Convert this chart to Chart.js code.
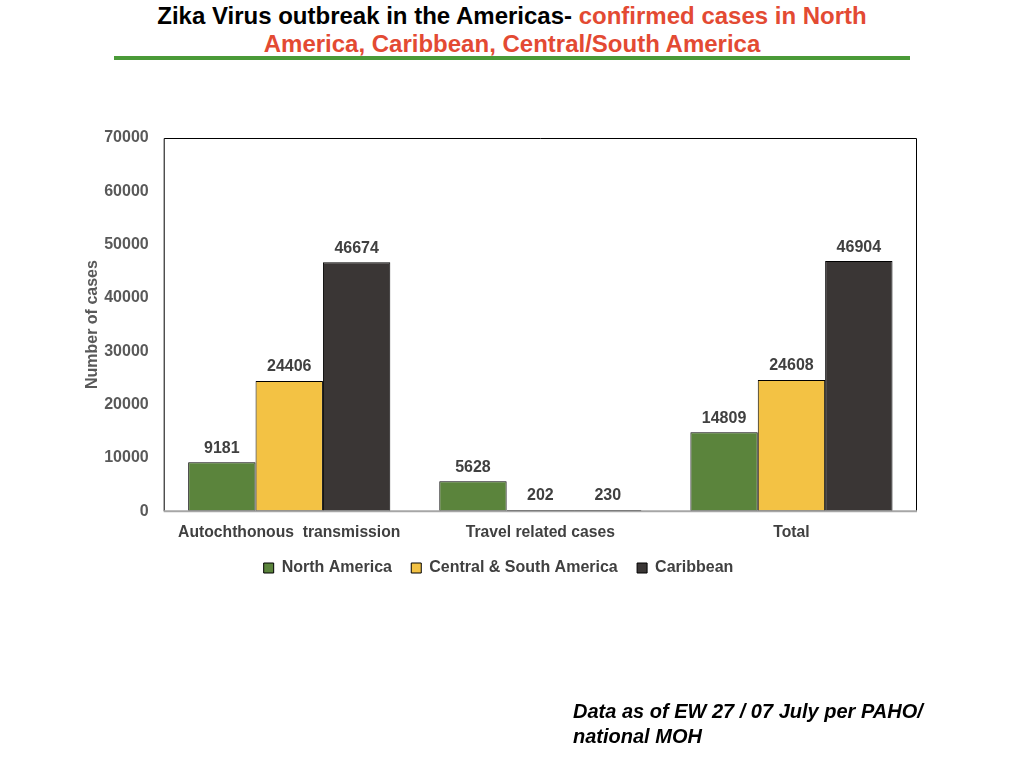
<!DOCTYPE html>
<html>
<head>
<meta charset="utf-8">
<script src="https://cdn.jsdelivr.net/npm/chart.js@4/dist/chart.umd.min.js"></script>
<style>
  html, body { margin: 0; padding: 0; background: #fff; width: 1024px; height: 768px; overflow: hidden; }
  #wrap { position: absolute; left: 0; top: 0; width: 1024px; height: 768px; }
  #title { position: absolute; left: 0; top: 2px; width: 1024px; text-align: center;
    font-family: "Liberation Sans Narrow", "Liberation Sans", Arial, sans-serif; font-weight: bold;
    font-size: 24px; line-height: 28px; color: #000; }
  #title .red { color: #e34a33; }
  #rule { position: absolute; left: 114px; top: 56px; width: 796px; height: 4px; background: #4a9a38; }
  #foot { position: absolute; left: 573px; top: 699px; font-family: "Liberation Sans", Arial, sans-serif;
    font-weight: bold; font-style: italic; font-size: 20px; line-height: 25px; color: #000; }
  canvas { position: absolute; left: 0; top: 0; }
</style>
</head>
<body>
<div id="wrap">
  <div id="title">Zika Virus outbreak in the Americas- <span class="red">confirmed cases in North<br>America, Caribbean, Central/South America</span></div>
  <div id="rule"></div>
  <canvas id="c" width="1024" height="768"></canvas>
  <div id="foot">Data as of EW 27 / 07 July per PAHO/<br>national MOH</div>
</div>
<script>
const categories = ["Autochthonous  transmission", "Travel related cases", "Total"];
const northAmerica = [9181, 5628, 14809];
const centralSouthAmerica = [24406, 202, 24608];
const caribbean = [46674, 230, 46904];
const seriesNames = ["North America", "Central & South America", "Caribbean"];
const seriesColors = ["#5b843c", "#f3c244", "#3a3635"];
const yTicks = [0, 10000, 20000, 30000, 40000, 50000, 60000, 70000];

const FONT = '"Liberation Sans", Arial, sans-serif';

const labelPlugin = {
  id: 'barLabels',
  afterDatasetsDraw(chart) {
    const ctx = chart.ctx;
    ctx.save();
    ctx.font = 'bold 16px ' + FONT;
    ctx.fillStyle = '#404040';
    ctx.textAlign = 'center';
    ctx.textBaseline = 'bottom';
    chart.data.datasets.forEach((ds, i) => {
      chart.getDatasetMeta(i).data.forEach((bar, j) => {
        ctx.fillText(String(ds.data[j]), bar.x, bar.y - 6);
      });
    });
    ctx.restore();
  }
};
const framePlugin = {
  id: 'frame',
  afterDraw(chart) {
    const a = chart.chartArea, ctx = chart.ctx;
    ctx.save();
    ctx.strokeStyle = '#000';
    ctx.lineWidth = 1;
    ctx.beginPath();
    ctx.moveTo(a.left + 0.5, a.bottom);
    ctx.lineTo(a.left + 0.5, a.top + 0.5);
    ctx.lineTo(a.right - 0.5, a.top + 0.5);
    ctx.lineTo(a.right - 0.5, a.bottom);
    ctx.stroke();
    ctx.strokeStyle = '#a6a6a6';
    ctx.lineWidth = 2;
    ctx.beginPath();
    ctx.moveTo(a.left, a.bottom);
    ctx.lineTo(a.right, a.bottom);
    ctx.stroke();
    ctx.restore();
  }
};

new Chart(document.getElementById('c'), {
  type: 'bar',
  data: {
    labels: categories,
    datasets: [northAmerica, centralSouthAmerica, caribbean].map((d, i) => ({
      label: seriesNames[i],
      data: d,
      backgroundColor: seriesColors[i],
      borderColor: '#000',
      borderWidth: 1,
      borderSkipped: false,
      categoryPercentage: 0.805,
      barPercentage: 1.0
    }))
  },
  options: {
    responsive: false,
    animation: false,
    devicePixelRatio: 1,
    layout: { padding: { left: 80, right: 107, top: 138, bottom: 182 } },
    plugins: {
      legend: {
        position: 'bottom',
        labels: {
          boxWidth: 10, boxHeight: 10, padding: 6,
          color: '#404040',
          font: { family: FONT, weight: 'bold', size: 16 },
          generateLabels(chart) {
            const items = Chart.defaults.plugins.legend.labels.generateLabels(chart);
            items.forEach((it, i) => { if (i < items.length - 1) it.text = it.text + '   '; });
            return items;
          }
        }
      },
      tooltip: { enabled: false }
    },
    scales: {
      x: {
        grid: { display: false, drawTicks: false },
        border: { display: false },
        ticks: { color: '#404040', padding: 12,
          font: { family: FONT, weight: 'bold', size: 15.7 } }
      },
      y: {
        min: 0, max: 70000,
        afterBuildTicks(axis) { axis.ticks = yTicks.map(v => ({ value: v })); },
        grid: { display: false, drawTicks: false },
        border: { display: false },
        ticks: { color: '#595959', padding: 15,
          callback: v => String(v),
          font: { family: FONT, weight: 'bold', size: 16 } },
        title: { display: true, text: 'Number of cases', color: '#595959', padding: { top: 3, bottom: -13 },
          font: { family: FONT, weight: 'bold', size: 16 } }
      }
    }
  },
  plugins: [labelPlugin, framePlugin]
});
</script>
</body>
</html>
